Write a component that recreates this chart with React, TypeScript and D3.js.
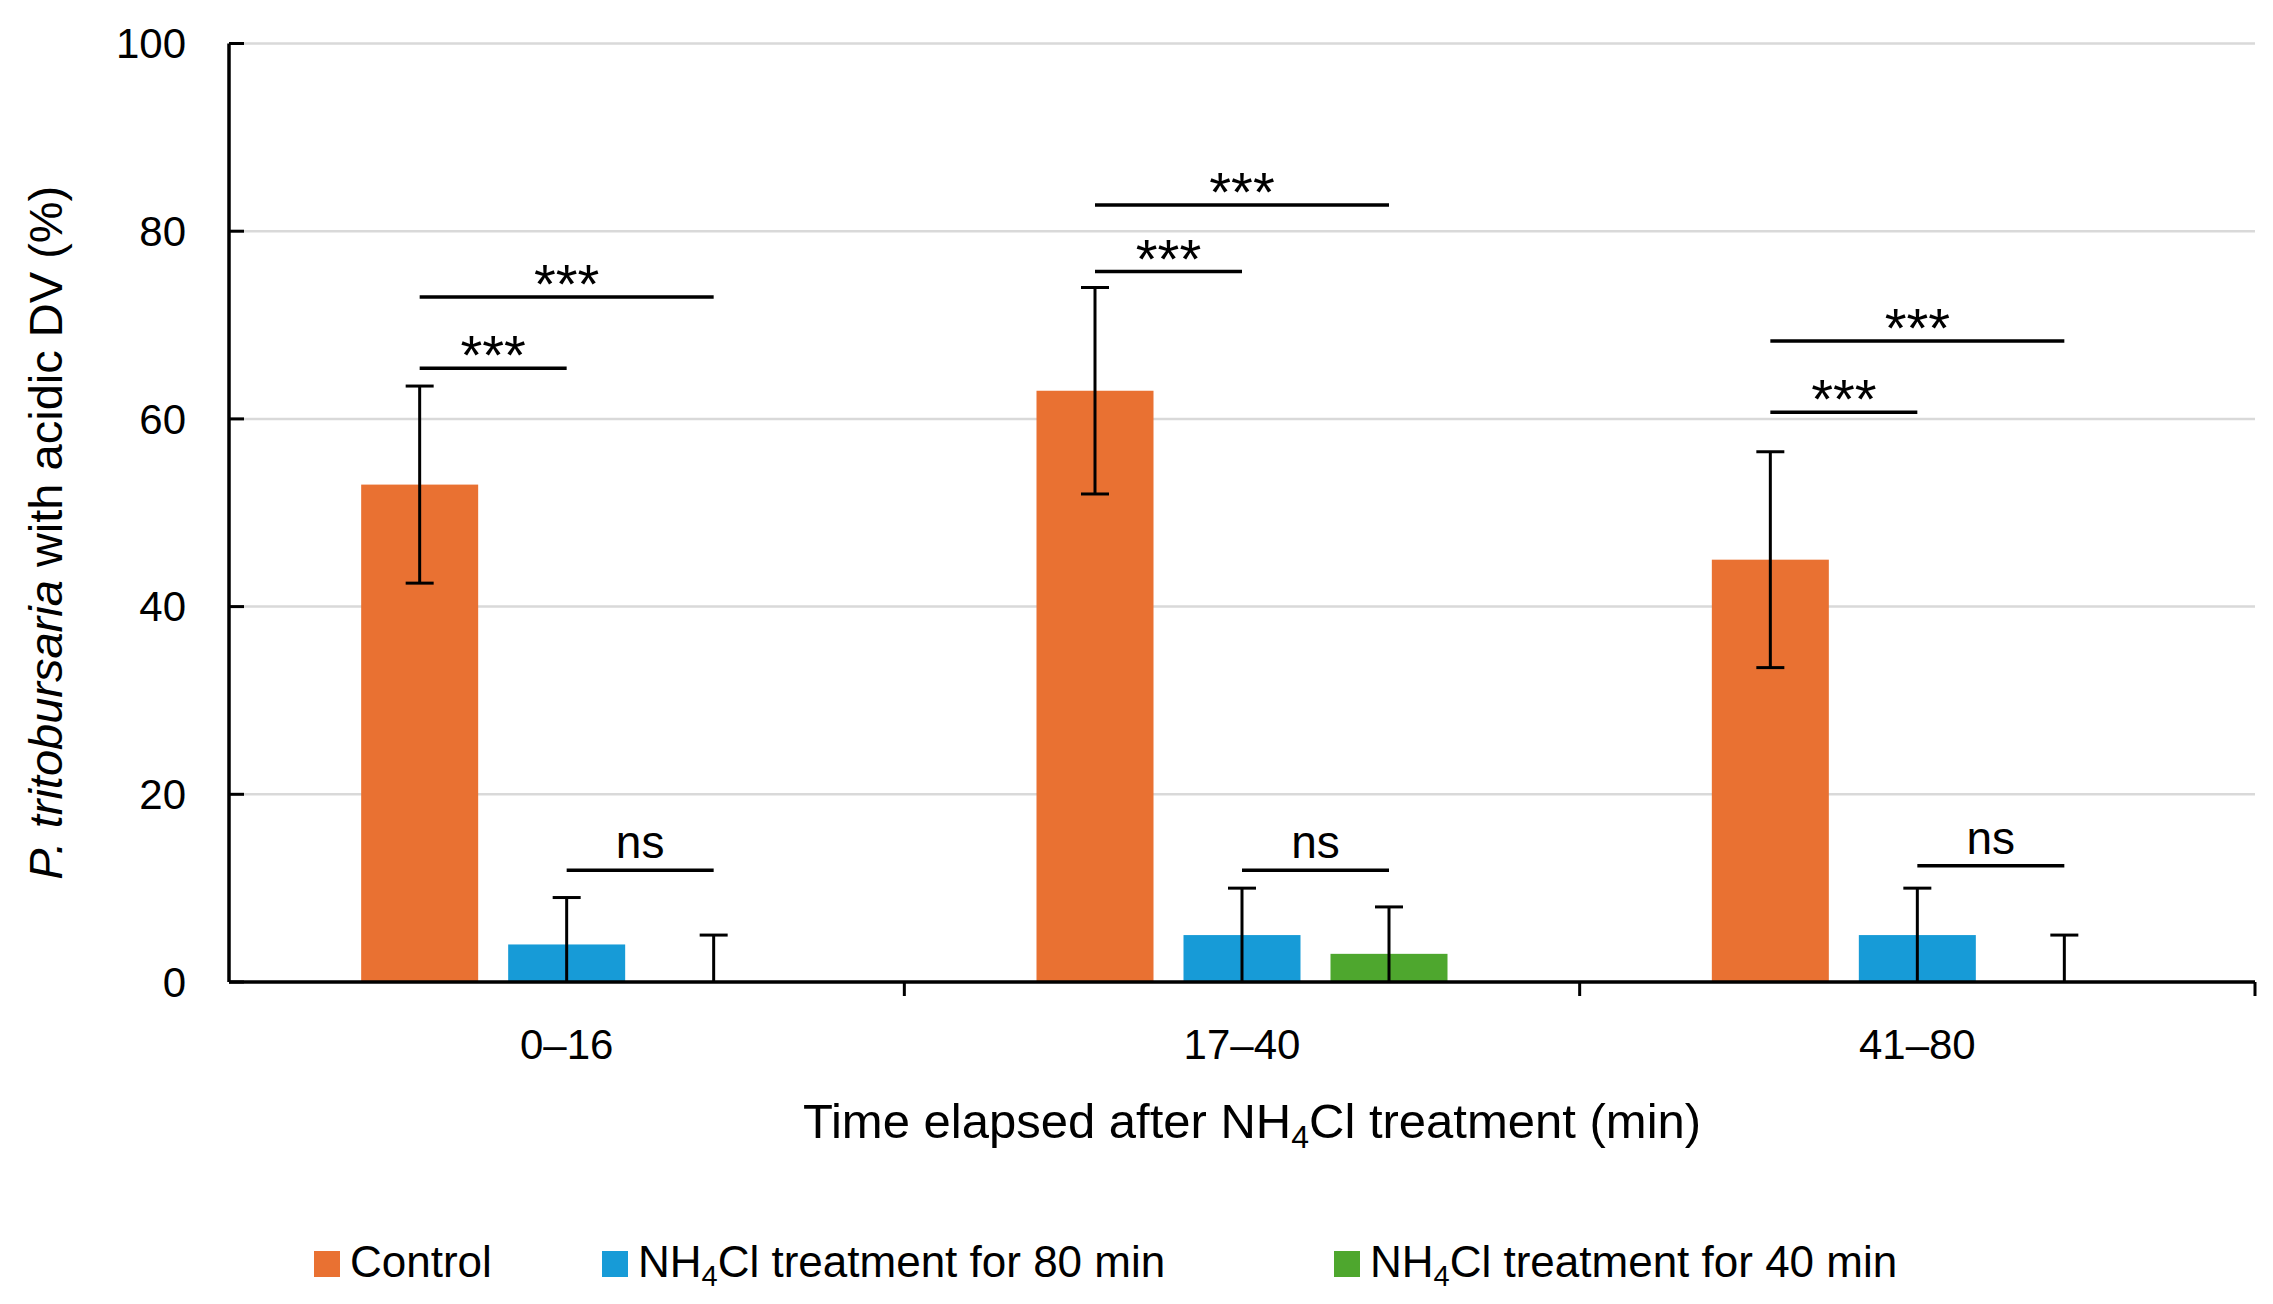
import { useEffect, useRef } from 'react';
import * as d3 from 'd3';

const categories = ['0–16', '17–40', '41–80'];
const seriesNames = ['Control', 'NH4Cl treatment for 80 min', 'NH4Cl treatment for 40 min'];
const colors = ['#E97132', '#179BD7', '#4EA72E'];
const means = [
  [53, 4, 0],
  [63, 5, 3],
  [45, 5, 0],
];
const errs = [
  [10.5, 5, 5],
  [11, 5, 5],
  [11.5, 5, 5],
];
// [category, fromSeries, toSeries, y value, label]
const brackets: [number, number, number, number, string][] = [
  [0, 0, 1, 65.4, '***'], [0, 0, 2, 73, '***'], [0, 1, 2, 11.9, 'ns'],
  [1, 0, 1, 75.7, '***'], [1, 0, 2, 82.8, '***'], [1, 1, 2, 11.9, 'ns'],
  [2, 0, 1, 60.7, '***'], [2, 0, 2, 68.3, '***'], [2, 1, 2, 12.4, 'ns'],
];
const yTicks = [0, 20, 40, 60, 80, 100];

export default function App() {
  const ref = useRef<SVGSVGElement>(null);

  useEffect(() => {
    document.body.style.margin = '0';
    const W = 2273, H = 1304;
    const m = { left: 229, right: 2255, top: 43.5, bottom: 982 };
    const svg = d3.select(ref.current!);
    svg.selectAll('*').remove();
    const font = 'Liberation Sans, Arial, sans-serif';

    const x0 = d3.scaleBand().domain(categories).range([m.left, m.right]);
    const bw = 117, gap = 30;
    const inner = d3.scaleBand<number>().domain([0, 1, 2])
      .range([(x0.bandwidth() - (3 * bw + 2 * gap)) / 2, (x0.bandwidth() + (3 * bw + 2 * gap)) / 2])
      .paddingInner(gap / (bw + gap));
    const y = d3.scaleLinear().domain([0, 100]).range([m.bottom, m.top]);
    const cx = (c: number, s: number) => x0(categories[c])! + inner(s)! + inner.bandwidth() / 2;

    // grid
    svg.append('g').selectAll('line').data(yTicks.filter(d => d > 0)).enter().append('line')
      .attr('x1', m.left).attr('x2', m.right).attr('y1', d => y(d)).attr('y2', d => y(d))
      .attr('stroke', '#d9d9d9').attr('stroke-width', 2.5);

    // bars
    means.forEach((row, c) => row.forEach((v, s) => {
      if (v > 0) svg.append('rect').attr('x', cx(c, s) - bw / 2).attr('width', bw)
        .attr('y', y(v)).attr('height', y(0) - y(v)).attr('fill', colors[s]);
    }));

    // error bars
    means.forEach((row, c) => row.forEach((v, s) => {
      const e = errs[c][s], x = cx(c, s);
      const lo = Math.max(0, v - e), hi = v + e;
      const g = svg.append('g').attr('stroke', '#000').attr('stroke-width', 3);
      g.append('line').attr('x1', x).attr('x2', x).attr('y1', y(lo)).attr('y2', y(hi));
      g.append('line').attr('x1', x - 14).attr('x2', x + 14).attr('y1', y(hi)).attr('y2', y(hi));
      if (v - e > 0) g.append('line').attr('x1', x - 14).attr('x2', x + 14).attr('y1', y(lo)).attr('y2', y(lo));
    }));

    // axes
    svg.append('line').attr('x1', m.left).attr('x2', m.left).attr('y1', m.top).attr('y2', m.bottom)
      .attr('stroke', '#000').attr('stroke-width', 3.5);
    svg.append('line').attr('x1', m.left).attr('x2', m.right).attr('y1', m.bottom).attr('y2', m.bottom)
      .attr('stroke', '#000').attr('stroke-width', 3.5);
    yTicks.forEach(t => {
      svg.append('line').attr('x1', m.left).attr('x2', m.left + 15).attr('y1', y(t)).attr('y2', y(t))
        .attr('stroke', '#000').attr('stroke-width', 3);
      svg.append('text').attr('x', 186).attr('y', y(t)).attr('dy', '0.35em').attr('text-anchor', 'end')
        .attr('font-family', font).attr('font-size', 42).text(t);
    });
    categories.forEach((c, i) => {
      const xs = x0(c)!;
      if (i > 0) svg.append('line').attr('x1', xs).attr('x2', xs).attr('y1', m.bottom).attr('y2', m.bottom + 14)
        .attr('stroke', '#000').attr('stroke-width', 3);
      svg.append('text').attr('x', xs + x0.bandwidth() / 2).attr('y', 1059).attr('text-anchor', 'middle')
        .attr('font-family', font).attr('font-size', 42).text(c);
    });
    svg.append('line').attr('x1', m.right).attr('x2', m.right).attr('y1', m.bottom).attr('y2', m.bottom + 14)
      .attr('stroke', '#000').attr('stroke-width', 3);

    // brackets
    brackets.forEach(([c, a, b, v, lab]) => {
      svg.append('line').attr('x1', cx(c, a)).attr('x2', cx(c, b)).attr('y1', y(v)).attr('y2', y(v))
        .attr('stroke', '#000').attr('stroke-width', 3.5);
      svg.append('text').attr('x', (cx(c, a) + cx(c, b)) / 2).attr('y', y(v) - (lab === 'ns' ? 12 : -6))
        .attr('text-anchor', 'middle').attr('font-family', font)
        .attr('font-size', lab === 'ns' ? 46 : 56).text(lab);
    });

    // x title
    const xt = svg.append('text').attr('x', (m.left + m.right) / 2 + 10).attr('y', 1138).attr('text-anchor', 'middle')
      .attr('font-family', font).attr('font-size', 49);
    xt.append('tspan').text('Time elapsed after NH');
    xt.append('tspan').attr('font-size', 32).attr('dy', 10).text('4');
    xt.append('tspan').attr('dy', -10).text('Cl treatment (min)');

    // y title
    const yt = svg.append('text').attr('transform', `translate(62, ${(m.top + m.bottom) / 2 + 20}) rotate(-90)`)
      .attr('text-anchor', 'middle').attr('font-family', font).attr('font-size', 47);
    yt.append('tspan').attr('font-style', 'italic').text('P. tritobursaria');
    yt.append('tspan').text(' with acidic DV (%)');

    // legend
    const lx = [314, 602, 1334];
    seriesNames.forEach((n, i) => {
      svg.append('rect').attr('x', lx[i]).attr('y', 1251).attr('width', 26).attr('height', 26).attr('fill', colors[i]);
      const t = svg.append('text').attr('x', lx[i] + 36).attr('y', 1277).attr('font-family', font).attr('font-size', 44);
      if (n.startsWith('NH4')) {
        t.append('tspan').text('NH');
        t.append('tspan').attr('font-size', 29).attr('dy', 9).text('4');
        t.append('tspan').attr('dy', -9).text(n.slice(3));
      } else t.text(n);
    });
    svg.attr('width', W).attr('height', H);
  }, []);

  return <svg ref={ref} width={2273} height={1304} style={{ display: 'block', background: '#fff' }} />;
}
